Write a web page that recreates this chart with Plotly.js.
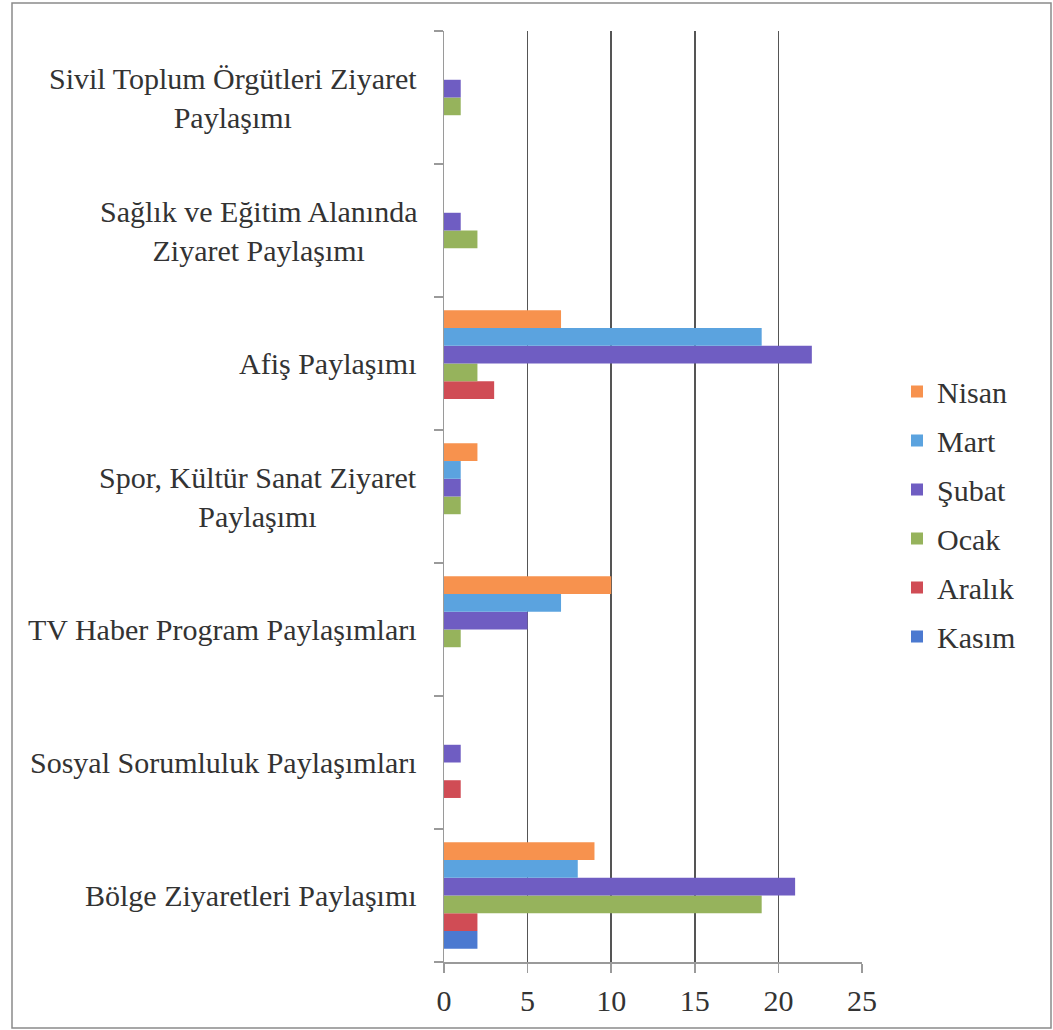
<!DOCTYPE html>
<html>
<head>
<meta charset="utf-8">
<script src="https://cdn.plot.ly/plotly-3.0.1.min.js"></script>
<style>
  html, body { margin: 0; padding: 0; background: #ffffff; font-family: "Liberation Serif", serif; }
  #chart { width: 1053px; height: 1030px; }
</style>
</head>
<body>
<div id="chart"></div>
<script>
// Categories (bottom to top)
const categories = [
  "Bölge Ziyaretleri Paylaşımı",
  "Sosyal Sorumluluk Paylaşımları",
  "TV Haber Program Paylaşımları",
  "Spor, Kültür Sanat Ziyaret Paylaşımı",
  "Afiş Paylaşımı",
  "Sağlık ve Eğitim Alanında Ziyaret Paylaşımı",
  "Sivil Toplum Örgütleri Ziyaret Paylaşımı"
];
const categoryLabels = [
  "Bölge Ziyaretleri Paylaşımı",
  "Sosyal Sorumluluk Paylaşımları",
  "TV Haber Program Paylaşımları",
  "Spor, Kültür Sanat Ziyaret<br>Paylaşımı",
  "Afiş Paylaşımı",
  "Sağlık ve Eğitim Alanında<br>Ziyaret Paylaşımı",
  "Sivil Toplum Örgütleri Ziyaret<br>Paylaşımı"
];

// Series values
const kasim  = [2, 0, 0, 0, 0, 0, 0];
const aralik = [2, 1, 0, 0, 3, 0, 0];
const ocak   = [19, 0, 1, 1, 2, 2, 1];
const subat  = [21, 1, 5, 1, 22, 1, 1];
const mart   = [8, 0, 7, 1, 19, 0, 0];
const nisan  = [9, 0, 10, 2, 7, 0, 0];

const seriesNames = ["Kasım", "Aralık", "Ocak", "Şubat", "Mart", "Nisan"];
const seriesValues = [kasim, aralik, ocak, subat, mart, nisan];
const seriesColors = ["#4b79d0", "#d04c55", "#96b35c", "#6f5dc2", "#5ba3df", "#f7924e"];

const xTicks = [0, 5, 10, 15, 20, 25];

const FONT = "Liberation Serif";
const TEXT = "#333333";
const FS = 30;

function draw() {
  const traces = seriesNames.map((name, i) => ({
    type: "bar",
    orientation: "h",
    name: name,
    y: categories,
    x: seriesValues[i],
    marker: { color: seriesColors[i], line: { width: 0 } },
    legendgroup: "g" + i,
    legendrank: seriesNames.length - i,
    hoverinfo: "none"
  }));

  const annotations = categories.map((c, i) => ({
    xref: "paper", yref: "y",
    x: 0, y: c,
    xshift: -25,
    xanchor: "right", yanchor: "middle",
    align: "center",
    showarrow: false,
    text: categoryLabels[i],
    font: { family: FONT, size: FS, color: TEXT }
  }));

  const layout = {
    width: 1053,
    height: 1030,
    font: { family: FONT, size: FS, color: TEXT },
    margin: { l: 444, r: 191, t: 31, b: 68, pad: 0 },
    paper_bgcolor: "#ffffff",
    plot_bgcolor: "#ffffff",
    barmode: "group",
    bargap: 0.2,
    bargroupgap: 0,
    showlegend: true,
    legend: {
      x: (897 - 444) / 418,
      xanchor: "left",
      y: (962 - 514) / 931,
      yanchor: "middle",
      traceorder: "grouped",
      tracegroupgap: 7,
      font: { family: FONT, size: FS, color: TEXT },
      bgcolor: "rgba(0,0,0,0)",
      itemwidth: 30
    },
    xaxis: {
      range: [0, 25],
      tickvals: xTicks,
      ticktext: xTicks.map(String),
      showgrid: true,
      gridcolor: "#555555",
      gridwidth: 1.5,
      zeroline: false,
      showline: true,
      linecolor: "#9a9a9a",
      linewidth: 1.5,
      ticks: "outside",
      ticklen: 9,
      tickcolor: "#9a9a9a",
      tickwidth: 1.5,
      ticklabelstandoff: 2,
      tickfont: { family: FONT, size: FS, color: TEXT },
      fixedrange: true
    },
    yaxis: {
      type: "category",
      categoryorder: "array",
      categoryarray: categories,
      showticklabels: false,
      tickson: "boundaries",
      ticks: "outside",
      ticklen: 9,
      tickcolor: "#9a9a9a",
      tickwidth: 1.5,
      showgrid: false,
      zeroline: false,
      showline: true,
      linecolor: "#9a9a9a",
      linewidth: 1.5,
      fixedrange: true
    },
    annotations: annotations,
    shapes: [{
      type: "rect",
      xref: "paper", yref: "paper",
      x0: (12 - 444) / 418, x1: (1051 - 444) / 418,
      y0: (962 - 1028) / 931, y1: (962 - 3) / 931,
      line: { color: "#8a8a8a", width: 1.5 },
      fillcolor: "rgba(0,0,0,0)",
      layer: "below"
    }]
  };

  Plotly.newPlot("chart", traces, layout, { staticPlot: true, displayModeBar: false });
}

if (document.fonts && document.fonts.load) {
  document.fonts.load('30px "Liberation Serif"').then(draw, draw);
} else {
  draw();
}
</script>
</body>
</html>
